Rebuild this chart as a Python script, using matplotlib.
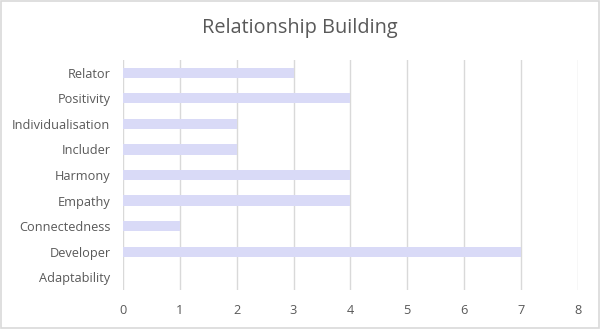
import matplotlib
matplotlib.use("Agg")
import matplotlib.pyplot as plt
from matplotlib.patches import Rectangle

# data, top to bottom as shown
themes = ["Relator", "Positivity", "Individualisation", "Includer", "Harmony",
          "Empathy", "Connectedness", "Developer", "Adaptability"]
counts = [3, 4, 2, 2, 4, 4, 1, 7, 0]

plt.rcParams['font.family'] = ['Open Sans', 'DejaVu Sans']

fig = plt.figure(figsize=(6, 3.29), dpi=100)
ax = fig.add_axes([0.205, 0.1185, 0.758, 0.699])

ypos = list(range(len(themes)))
ax.barh(ypos, counts, height=0.4, color='#D9DAF7', zorder=2)

ax.set_xlim(0, 8)
ax.set_ylim(len(themes) - 0.5, -0.5)
ax.set_xticks(range(0, 9))
ax.set_yticks(ypos)
ax.set_yticklabels(themes)
ax.tick_params(axis='both', length=0, colors='#595959', labelsize=9.2)
ax.tick_params(axis='x', pad=10)
ax.tick_params(axis='y', pad=9)
ax.grid(axis='x', color='#D9D9D9', linewidth=1, zorder=0)
for s in ax.spines.values():
    s.set_visible(False)

fig.text(0.5, 0.915, "Relationship Building", ha='center', va='center',
         fontsize=14.3, color='#595959')

# thin border round the chart
fig.patches.append(Rectangle((0.002, 0.003), 0.996, 0.994, transform=fig.transFigure,
                             fill=False, edgecolor='#D9D9D9', linewidth=1.2))

fig.savefig("out.png", dpi=100)
